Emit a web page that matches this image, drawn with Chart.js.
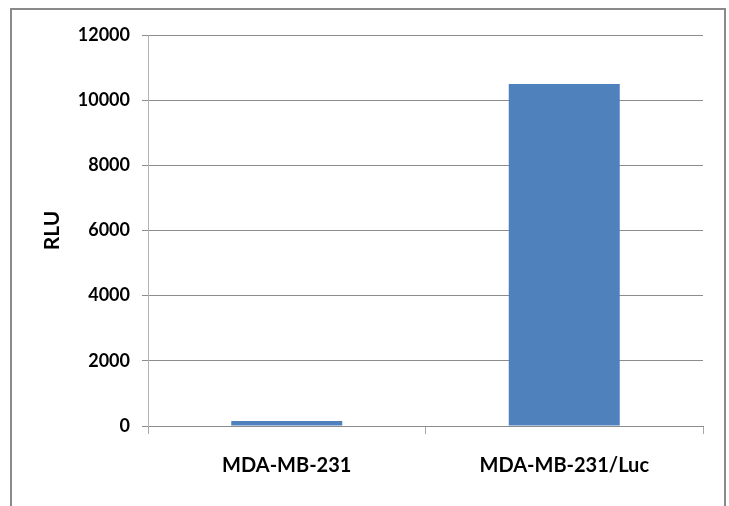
<!DOCTYPE html>
<html>
<head>
<meta charset="utf-8">
<script src="https://cdn.jsdelivr.net/npm/chart.js@4.4.0/dist/chart.umd.min.js"></script>
<style>
  html, body { margin: 0; padding: 0; background: #fff; overflow: hidden; }
  #frame { position: absolute; left: 10px; top: 8px; width: 716px; height: 520px; border: 2px solid #8a8a8a; box-sizing: border-box; }
  #wrap { position: absolute; left: 0; top: 0; width: 729px; height: 506px; }
</style>
</head>
<body>
<div id="frame"></div>
<div id="wrap"><canvas id="bars" width="729" height="506"></canvas></div>
<script>
const categories = ['MDA-MB-231', 'MDA-MB-231/Luc'];
const rluValues = [150, 10500];
const yTicks = [0, 2000, 4000, 6000, 8000, 10000, 12000];

const ctx = document.getElementById('bars');
const chart = new Chart(ctx, {
  type: 'bar',
  data: {
    labels: categories,
    datasets: [{
      label: 'RLU',
      data: rluValues,
      backgroundColor: '#4f81bd',
      borderWidth: 0,
      barPercentage: 0.4,
      categoryPercentage: 1.0
    }]
  },
  options: {
    responsive: false,
    animation: false,
    devicePixelRatio: 1,
    layout: { padding: { left: 0, top: 35, right: 26, bottom: 0 } },
    plugins: {
      legend: { display: false },
      tooltip: { enabled: false }
    },
    scales: {
      x: {
        grid: { display: true, drawOnChartArea: false, drawTicks: true, tickLength: 8, color: '#a6a6a6', offset: true },
        border: { display: true, color: '#8c8c8c' },
        ticks: { color: '#000', font: { family: 'Lato', size: 20, weight: 'bold' }, padding: 20 },
        afterFit: s => { s.height = 506 - 426; }
      },
      y: {
        min: 0,
        max: 12000,
        afterBuildTicks: s => { s.ticks = yTicks.map(v => ({ value: v })); },
        grid: { color: '#8c8c8c', tickLength: 6, drawTicks: true },
        border: { display: true, color: '#b4b4b4' },
        ticks: { color: '#000', font: { family: 'Lato', size: 18, weight: 'bold' }, padding: 12, callback: v => String(v) },
        title: { display: true, text: 'RLU', color: '#000', font: { family: 'Lato', size: 21, weight: 'bold' }, padding: { top: 40, bottom: 0 } },
        afterFit: s => { s.width = 148; }
      }
    }
  }
});
</script>
</body>
</html>
